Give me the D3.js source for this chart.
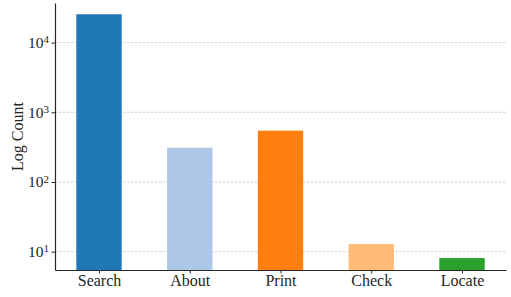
<!DOCTYPE html>
<html><head><meta charset="utf-8">
<script src="https://cdn.jsdelivr.net/npm/d3@7"></script>
<style>body{margin:0;background:#fff}svg{display:block}</style>
</head><body><svg id="c" width="511" height="297"></svg>
<script>
const categories = ["Search", "About", "Print", "Check", "Locate"];
const values = [25500, 310, 545, 12.9, 8.1];
const colors = ["#1f77b4", "#aec7e8", "#ff7f0e", "#ffbb78", "#2ca02c"];
const yTicks = [10, 100, 1000, 10000];
const yTickExp = ["1", "2", "3", "4"];

const svg = d3.select("#c");
const L = 55, R = 506, T = 3, B = 270;
const font = "'Liberation Serif', 'DejaVu Serif', serif";
const x = d3.scaleLinear().domain([-0.485, categories.length - 1 + 0.485]).range([L, R]);
const y = d3.scaleLog().domain([5.46, 37000]).range([B, T]);
const bw = x(0.5) - x(0);

// grid
svg.append("g").selectAll("line").data(yTicks).join("line")
  .attr("x1", L).attr("x2", R).attr("y1", d => y(d)).attr("y2", d => y(d))
  .attr("stroke", "#c8c8c8").attr("stroke-width", 0.8).attr("stroke-dasharray", "2.5,1.5");

// bars
svg.append("g").selectAll("rect").data(values).join("rect")
  .attr("x", (d, i) => x(i) - bw / 2).attr("width", bw)
  .attr("y", d => y(d)).attr("height", d => B - y(d))
  .attr("fill", (d, i) => colors[i]);

// axes
const gx = svg.append("g").attr("transform", `translate(0,${B})`)
  .call(d3.axisBottom(x).tickValues(d3.range(categories.length)).tickFormat(i => categories[i]).tickSize(3.5).tickSizeOuter(0));
const gy = svg.append("g").attr("transform", `translate(${L},0)`)
  .call(d3.axisLeft(y).tickValues(yTicks).tickFormat("").tickSize(3.5).tickSizeOuter(0));
[gx, gy].forEach(g => {
  g.select(".domain").attr("stroke", "#262626").attr("stroke-width", 1.2);
  g.selectAll(".tick line").attr("stroke", "#262626").attr("stroke-width", 1);
});
gx.selectAll(".tick text").attr("font-family", font).attr("font-size", 16).attr("fill", "#262626").attr("dy", "0.6em");

const yl = gy.selectAll(".tick").append("text")
  .attr("x", -6).attr("dy", "0.32em").attr("text-anchor", "end")
  .attr("font-family", font).attr("font-size", 15.5).attr("fill", "#262626");
yl.append("tspan").text("10");
yl.append("tspan").attr("dy", "-0.45em").attr("font-size", 11).text((d, i) => yTickExp[i]);

svg.append("text").attr("transform", `translate(23,${(T + B) / 2}) rotate(-90)`)
  .attr("text-anchor", "middle").attr("font-family", font).attr("font-size", 16).attr("fill", "#262626")
  .text("Log Count");
</script></body></html>
